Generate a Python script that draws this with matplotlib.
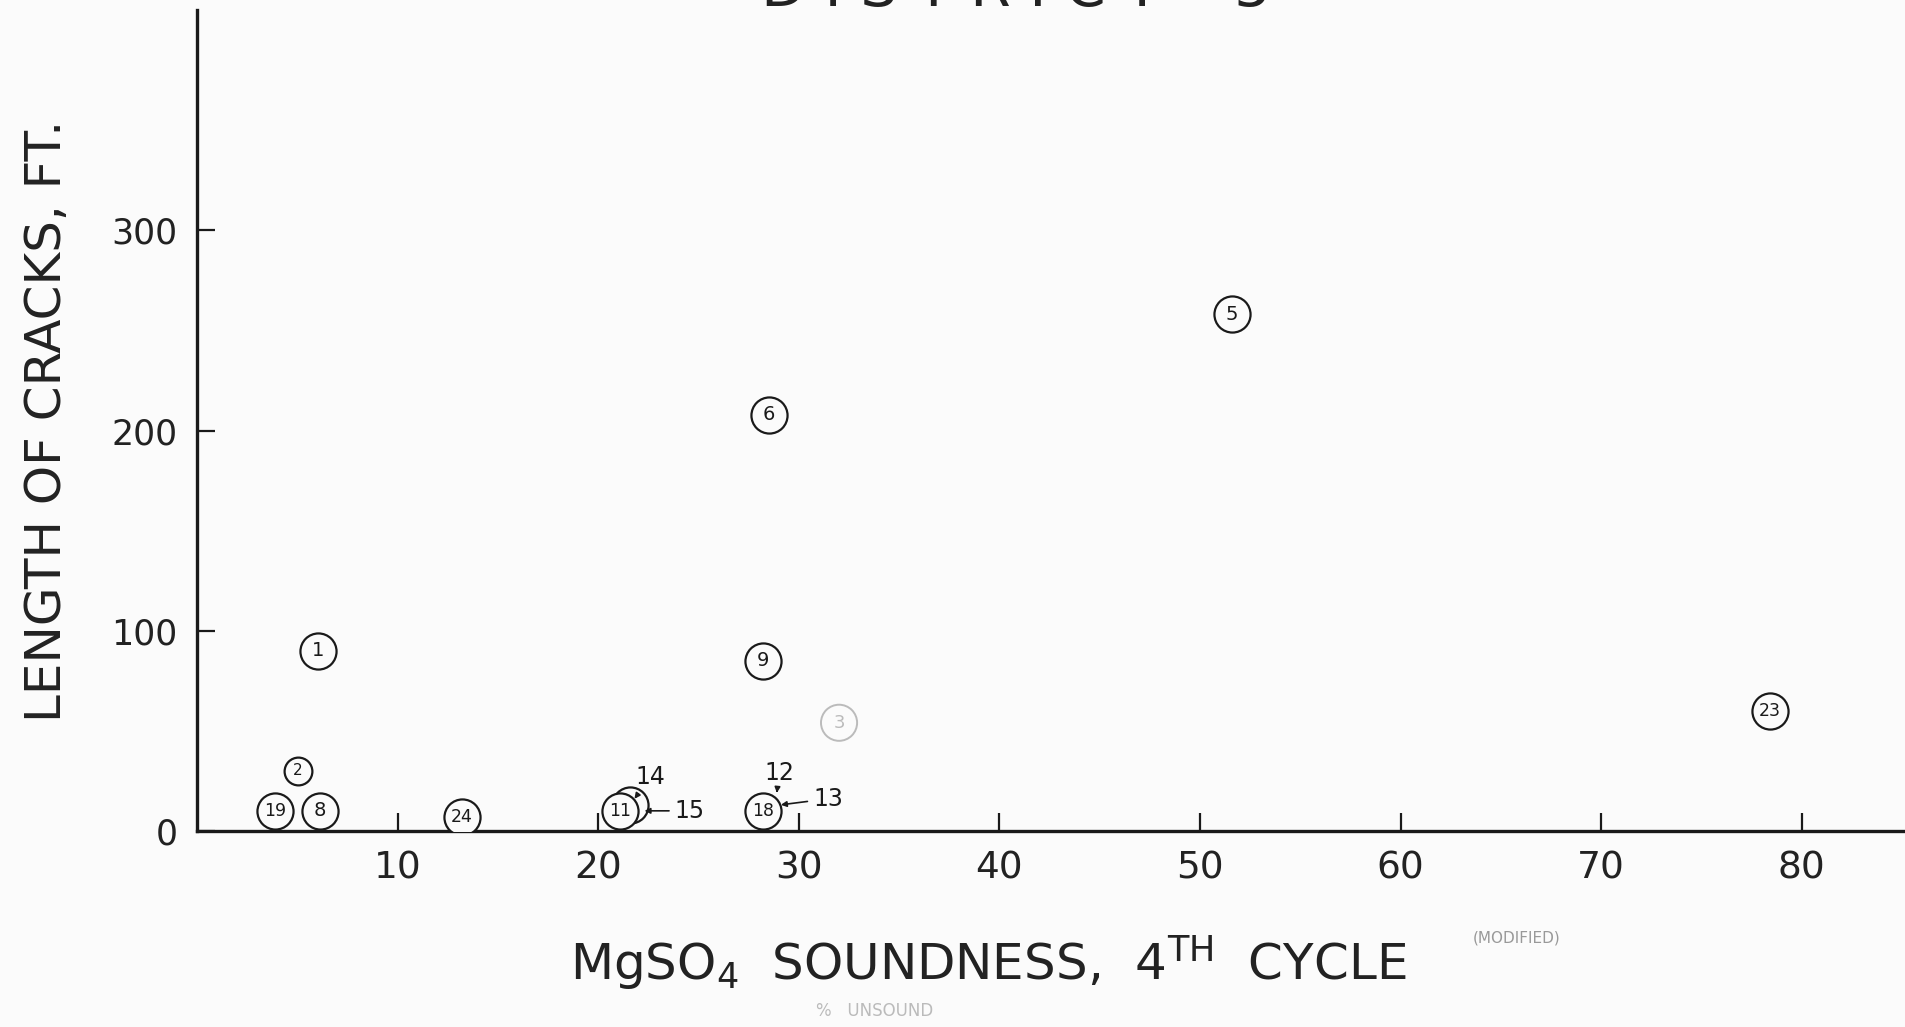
#!/usr/bin/env python3
"""
District 5 - length of cracks vs MgSO4 soundness (scan recreation)
"""

import matplotlib.pyplot as plt

# データ (読み取り値)
labels = ['1', '2', '19', '8', '24', '14', '11', '18', '6', '9', '5', '23']
soundness = [6.0, 5.0, 3.9, 6.1, 13.2, 21.6, 21.1, 28.2, 28.5, 28.2, 51.6, 78.4]
crack_len = [90, 30, 10, 10, 7, 13, 10, 10, 208, 85, 258, 60]
faint_label = '3'
faint_x, faint_y = 32.0, 54.0

# 矢印付きの注記 (label, 点, 文字位置)
notes = [
    ('14', (21.8, 16), (22.6, 27)),
    ('15', (22.3, 10), (23.8, 10)),
    ('12', (28.9, 19), (29.0, 29)),
    ('13', (29.1, 13), (30.7, 16)),
]

x_ticks = [10, 20, 30, 40, 50, 60, 70, 80]
y_ticks = [0, 100, 200, 300]

BG = '#fbfbfb'
INK = '#1a1a1a'


def main():
    plt.rcParams['font.family'] = ['DejaVu Sans']
    fig = plt.figure(figsize=(19.06, 10.27), dpi=100, facecolor=BG)
    ax = fig.add_axes([0.1035, 0.191, 0.8965, 0.799], facecolor=BG)

    # 円マーカーと番号 (14 は矢印で外に番号)
    for lab, x, y in zip(labels, soundness, crack_len):
        size = 20 if lab == '2' else 26
        ax.scatter([x], [y], s=size ** 2, facecolors=BG, edgecolors=INK,
                   linewidths=1.6, zorder=3)
        if lab == '14':
            continue
        fs = 11 if size == 20 else (14 if len(lab) == 1 else 12.5)
        ax.text(x, y, lab, ha='center', va='center', fontsize=fs,
                color=INK, zorder=4)

    # かすれた点
    ax.scatter([faint_x], [faint_y], s=26 ** 2, facecolors='none',
               edgecolors='#bbbbbb', linewidths=1.4, zorder=2)
    ax.text(faint_x, faint_y, faint_label, ha='center', va='center',
            fontsize=13, color='#bbbbbb')

    for lab, pt, txt in notes:
        ax.annotate(lab, xy=pt, xytext=txt, fontsize=17, color=INK,
                    ha='left' if lab in ('15', '13') else 'center', va='center',
                    arrowprops=dict(arrowstyle='-|>', color=INK, lw=1.2,
                                    mutation_scale=8, shrinkA=2, shrinkB=0),
                    zorder=5)

    # 軸設定
    ax.set_xlim(0, 85.2)
    ax.set_ylim(0, 410)
    ax.set_xticks(x_ticks)
    ax.set_yticks(y_ticks)
    ax.set_xticklabels([str(t) for t in x_ticks])
    ax.set_yticklabels([str(t) for t in y_ticks])
    for s in ('top', 'right'):
        ax.spines[s].set_visible(False)
    for s in ('left', 'bottom'):
        ax.spines[s].set_linewidth(2.4)
        ax.spines[s].set_color(INK)
    ax.tick_params(axis='both', direction='in', length=13, width=1.6,
                   colors=INK, labelcolor='#222222')
    ax.tick_params(axis='x', pad=14, labelsize=27)
    ax.tick_params(axis='y', pad=14, labelsize=25)

    ax.set_ylabel('LENGTH OF CRACKS, FT.', fontsize=36, color='#222222')
    ax.yaxis.set_label_coords(-0.074, 0.50)
    ax.set_xlabel(r'MgSO$_4$  SOUNDNESS,  4$^{\mathrm{TH}}$  CYCLE', fontsize=36,
                  color='#222222')
    ax.xaxis.set_label_coords(0.463, -0.125)

    fig.text(1517 / 1906, 1 - 938 / 1027, '(MODIFIED)', fontsize=11,
             color='#999999', ha='center', va='center')
    fig.text(875 / 1906, 1 - 1011 / 1027, '%   UNSOUND', fontsize=12,
             color='#bbbbbb', ha='center', va='center')
    # 上端で切れているタイトル
    fig.text(0.533, 1 - 6 / 1027, 'D I S T R I C T    5', fontsize=42,
             color='#222222', ha='center', va='baseline')

    fig.savefig('out.png', dpi=100, facecolor=BG)
    plt.close(fig)


if __name__ == '__main__':
    main()
